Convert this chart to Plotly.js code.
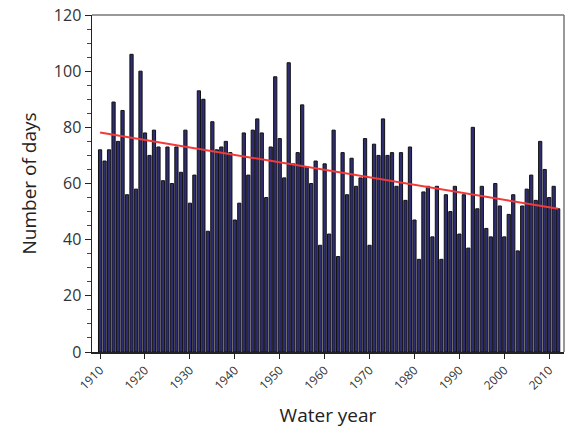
<!DOCTYPE html>
<html>
<head>
<meta charset="utf-8">
<script src="https://cdn.plot.ly/plotly-3.0.1.min.js"></script>
<style>
  html, body { margin: 0; padding: 0; background: #fff; }
  #chart { width: 574px; height: 431px; }
</style>
</head>
<body>
<div id="chart"></div>
<script>
// Water years 1910-2012
const startYear = 1910;
const endYear = 2012;
const days = [
  72, 68, 72, 89, 75, 86, 56, 106, 58, 100,   // 1910-1919
  78, 70, 79, 73, 61, 73, 60, 73, 64, 79,     // 1920-1929
  53, 63, 93, 90, 43, 82, 72, 73, 75, 71,     // 1930-1939
  47, 53, 78, 63, 79, 83, 78, 55, 73, 98,     // 1940-1949
  76, 62, 103, 67, 71, 88, 66, 60, 68, 38,    // 1950-1959
  67, 42, 79, 34, 71, 56, 69, 59, 62, 76,     // 1960-1969
  38, 74, 70, 83, 70, 71, 59, 71, 54, 73,     // 1970-1979
  47, 33, 57, 59, 41, 59, 33, 56, 50, 59,     // 1980-1989
  42, 56, 37, 80, 51, 59, 44, 41, 60, 52,     // 1990-1999
  41, 49, 56, 36, 52, 58, 63, 54, 75, 65,     // 2000-2009
  55, 59, 51                                  // 2010-2012
];
const years = [];
for (let y = startYear; y <= endYear; y++) years.push(y);

// Trend line end points
const trendYears = [1910, 2012];
const trendValues = [78.2, 51.0];

const tickYears = [1910, 1920, 1930, 1940, 1950, 1960, 1970, 1980, 1990, 2000, 2010];
const tickLabels = tickYears.map(String);

const fontFamily = "'Open Sans', 'DejaVu Sans', sans-serif";

const traces = [
  {
    type: 'bar',
    x: years,
    y: days,
    width: 0.72,
    marker: { color: '#2f2d72', line: { color: '#111111', width: 1 } },
    hoverinfo: 'x+y'
  },
  {
    type: 'scatter',
    mode: 'lines',
    x: trendYears,
    y: trendValues,
    line: { color: '#f23a3a', width: 2 }
  }
];

const layout = {
  width: 574,
  height: 431,
  margin: { l: 92, r: 10, t: 15, b: 79 },
  paper_bgcolor: '#ffffff',
  plot_bgcolor: '#ffffff',
  showlegend: false,
  font: { family: fontFamily, color: '#222' },
  xaxis: {
    range: [1908.2, 2013.3],
    tickvals: tickYears,
    ticktext: tickLabels,
    tickangle: -45,
    ticks: 'outside',
    ticklen: 5,
    tickwidth: 1,
    tickcolor: '#222',
    tickfont: { size: 12, family: fontFamily, color: '#333' },
    showgrid: false,
    zeroline: false,
    showline: true,
    linecolor: '#222',
    linewidth: 1.5,
    title: { text: 'Water year', font: { size: 19, family: fontFamily, color: '#222' }, standoff: 16 }
  },
  yaxis: {
    range: [0, 120],
    tickvals: [0, 20, 40, 60, 80, 100, 120],
    ticks: 'outside',
    ticklen: 6,
    tickwidth: 1,
    tickcolor: '#222',
    tickfont: { size: 16, family: fontFamily, color: '#333' },
    minor: { dtick: 5, ticks: 'outside', ticklen: 4, tickcolor: '#444', tickwidth: 1, showgrid: false },
    showgrid: false,
    zeroline: false,
    showline: true,
    linecolor: '#222',
    linewidth: 1.5,
    title: { text: 'Number of days', font: { size: 19, family: fontFamily, color: '#222' }, standoff: 12 }
  },
  shapes: [
    { type: 'line', xref: 'paper', yref: 'paper', x0: 0, x1: 1, y0: 1, y1: 1, line: { color: '#777', width: 1.5 } },
    { type: 'line', xref: 'paper', yref: 'paper', x0: 1, x1: 1, y0: 0, y1: 1, line: { color: '#777', width: 1.5 } }
  ]
};

Plotly.newPlot('chart', traces, layout, { displayModeBar: false, staticPlot: true });
</script>
</body>
</html>
